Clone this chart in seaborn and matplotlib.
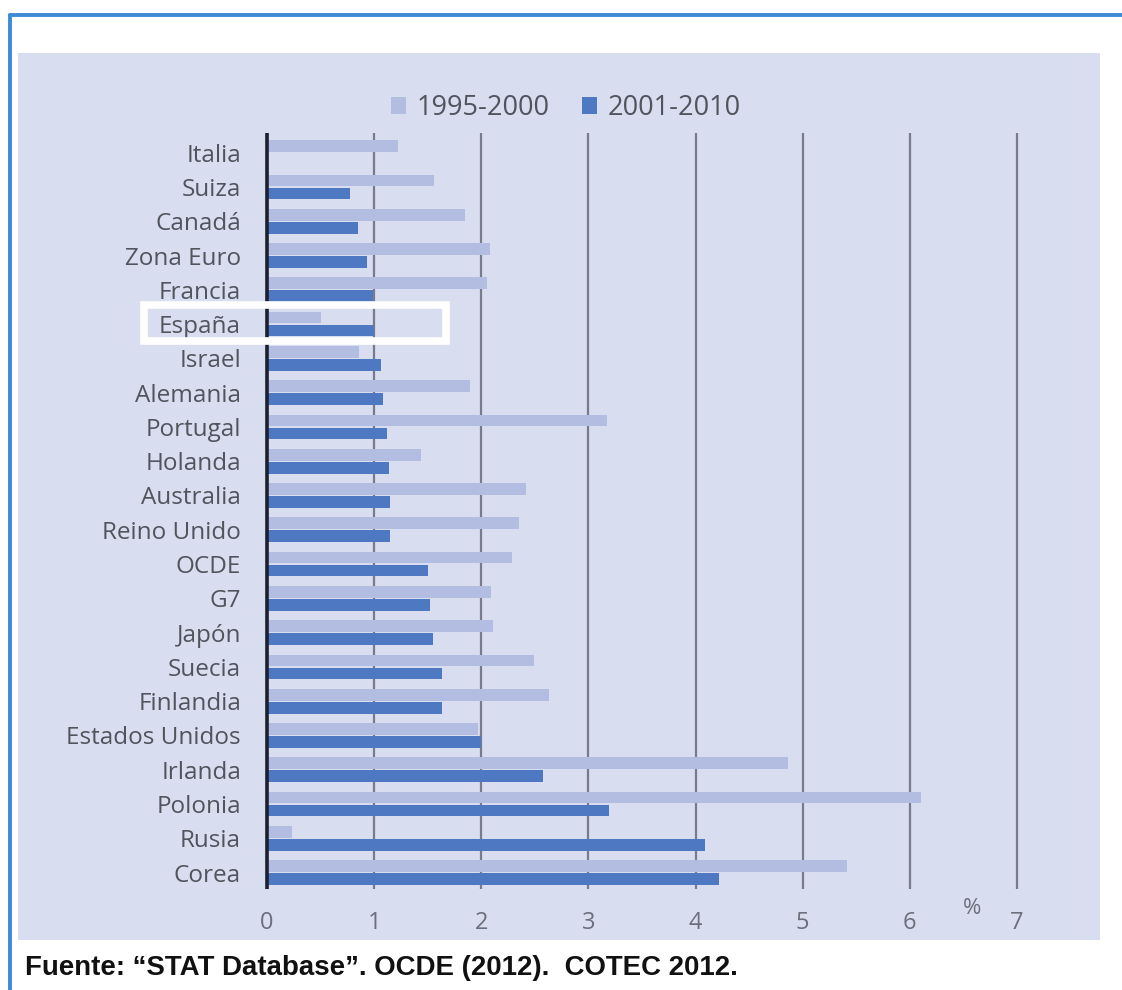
import numpy as np
import pandas as pd
import matplotlib
matplotlib.use("Agg")
import matplotlib.pyplot as plt
from matplotlib.patches import Rectangle
from matplotlib.lines import Line2D
import seaborn as sns

# ---------------- data ----------------
categories = ["Italia", "Suiza", "Canadá", "Zona Euro", "Francia", "España",
              "Israel", "Alemania", "Portugal", "Holanda", "Australia",
              "Reino Unido", "OCDE", "G7", "Japón", "Suecia", "Finlandia",
              "Estados Unidos", "Irlanda", "Polonia", "Rusia", "Corea"]
series_names = ["1995-2000", "2001-2010"]
values_1995_2000 = [1.22, 1.56, 1.85, 2.08, 2.05, 0.50, 0.86, 1.89, 3.17, 1.44,
                    2.42, 2.35, 2.29, 2.09, 2.11, 2.49, 2.63, 1.97, 4.86, 6.10,
                    0.23, 5.41]
values_2001_2010 = [np.nan, 0.77, 0.85, 0.93, 0.99, 1.00, 1.06, 1.08, 1.12, 1.14,
                    1.15, 1.15, 1.50, 1.52, 1.55, 1.63, 1.63, 2.00, 2.58, 3.19,
                    4.09, 4.22]
x_ticks = [0, 1, 2, 3, 4, 5, 6, 7]
highlight = "España"
source_text = "Fuente: \u201cSTAT Database\u201d. OCDE (2012).  COTEC 2012."

df = pd.DataFrame({
    "País": categories * 2,
    "Periodo": [series_names[0]] * len(categories) + [series_names[1]] * len(categories),
    "Valor": values_1995_2000 + values_2001_2010,
})

# ---------------- style ----------------
sns.set_theme(style="white")
plt.rcParams["font.family"] = ["Open Sans", "DejaVu Sans"]

PANEL = "#d9ddf0"
LIGHT = "#b3bde2"
DARK = "#4f78c3"
GRID = "#787c8a"
AXIS = "#1c2030"
BORDER = "#3f8ad6"
LABEL = "#50545c"
TICK = "#6b6f7b"

W, H = 1122, 990
fig = plt.figure(figsize=(W / 100, H / 100), dpi=100)
fig.patch.set_facecolor("white")

# panel background
fig.patches.append(Rectangle((18 / W, 1 - 940 / H), (1100 - 18) / W, (940 - 53) / H,
                             transform=fig.transFigure, facecolor=PANEL,
                             edgecolor="none", zorder=-5))
# outer blue frame (top and left visible)
fig.lines.append(Line2D([10 / W, 1.0], [1 - 15 / H, 1 - 15 / H], transform=fig.transFigure,
                        color=BORDER, lw=2.8, zorder=-4))
fig.lines.append(Line2D([10 / W, 10 / W], [0, 1 - 15 / H], transform=fig.transFigure,
                        color=BORDER, lw=2.8, zorder=-4))

px_per_unit = 750 / 7
xmin, xmax = -0.1, 7.1
ax_left = (267 + xmin * px_per_unit) / W
ax_w = (xmax - xmin) * px_per_unit / W
ax_bottom = 1 - 889 / H
ax_h = (889 - 133) / H
ax = fig.add_axes([ax_left, ax_bottom, ax_w, ax_h])
ax.set_facecolor("none")

sns.barplot(data=df, y="País", x="Valor", hue="Periodo", orient="h",
            order=categories, hue_order=series_names,
            palette=[LIGHT, DARK], saturation=1, width=0.76, gap=0.1,
            errorbar=None, ax=ax, zorder=3, linewidth=0, edgecolor="none")

ax.set_xlim(xmin, xmax)
ax.set_ylim(21.48, -0.575)
ax.set_xticks(x_ticks)
ax.set_xticklabels([str(t) for t in x_ticks])
ax.set_xlabel("")
ax.set_ylabel("")
for s in ax.spines.values():
    s.set_visible(False)
ax.set_axisbelow(True)
ax.xaxis.grid(True, color=GRID, lw=1.6)
ax.yaxis.grid(False)
ax.axvline(0, color=AXIS, lw=2.6, zorder=4)
ax.tick_params(axis="x", length=0, pad=16, labelsize=17, labelcolor=TICK)
ax.tick_params(axis="y", length=0, pad=11, labelsize=17.5, labelcolor=LABEL)

ax.text(6.58, 22.05, "%", fontsize=16, color=TICK, ha="center", va="center",
        clip_on=False)

# highlight box around España
hi = categories.index(highlight)
ax.add_patch(Rectangle((-1.147, hi - 0.57), 1.67 + 1.147, 1.065,
                       facecolor="none", edgecolor="white", lw=5.5,
                       clip_on=False, zorder=6))

sns.move_legend(ax, loc="center left", bbox_to_anchor=(391 / W, 1 - 108 / H),
                bbox_transform=fig.transFigure, ncol=2, frameon=False, title=None,
                borderpad=0, borderaxespad=0, handlelength=0.55, handleheight=0.55,
                handletextpad=0.4, columnspacing=1.2, fontsize=19.5,
                labelcolor=LABEL)

fig.text(25 / W, 1 - 968 / H, source_text, fontsize=19.9, fontweight="bold",
         family=["Liberation Sans", "DejaVu Sans"], color="#111111",
         ha="left", va="center")

fig.savefig("out.png", dpi=100, facecolor="white")
